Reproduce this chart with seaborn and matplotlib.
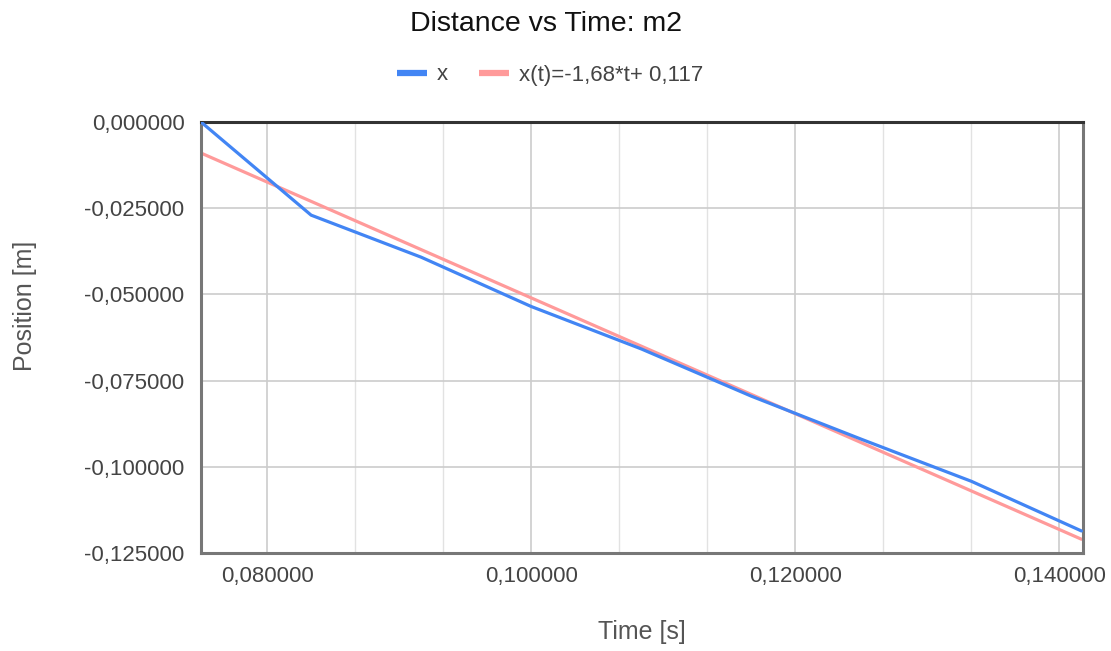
import numpy as np
import pandas as pd
import seaborn as sns
import matplotlib
matplotlib.use("Agg")
import matplotlib.pyplot as plt
from matplotlib.ticker import FuncFormatter, MultipleLocator

# measured data (Time [s], Position [m])
time_s = [0.075, 0.083333, 0.091667, 0.1, 0.108333, 0.116667, 0.125, 0.133333, 0.141667]
pos_m = [0.0, -0.0270, -0.0392, -0.0535, -0.0658, -0.0795, -0.0920, -0.1042, -0.1186]

# trendline x(t) = -1,68*t + 0,117
slope = -1.68
intercept = 0.117
fit_label = "x(t)=-1,68*t+ 0,117"

df = pd.DataFrame({"t": time_s, "x": pos_m})
df["fit"] = slope * df["t"] + intercept

sns.set_style("white")
plt.rcParams["font.family"] = ["Liberation Sans", "DejaVu Sans"]

fig = plt.figure(figsize=(11.11, 6.51), dpi=100)
ax = fig.add_axes([0.181, 0.1505, 0.794, 0.662])

sns.lineplot(data=df, x="t", y="x", ax=ax, color="#4285f4", linewidth=2.3, label="x", zorder=3)
sns.lineplot(data=df, x="t", y="fit", ax=ax, color="#ff9a9a", linewidth=2.3, label=fit_label, zorder=2)

ax.set_xlim(0.075, 0.1418)
ax.set_ylim(-0.125, 0.0)
ax.xaxis.set_major_locator(MultipleLocator(0.02))
ax.xaxis.set_minor_locator(MultipleLocator(0.02 / 3))
ax.yaxis.set_major_locator(MultipleLocator(0.025))

fmt = FuncFormatter(lambda v, p: f"{v:.6f}".replace(".", ",").replace("-0,000000", "0,000000"))
ax.xaxis.set_major_formatter(fmt)
ax.yaxis.set_major_formatter(fmt)

ax.grid(True, which="major", color="#cccccc", linewidth=1.2)
ax.grid(True, which="minor", axis="x", color="#e2e2e2", linewidth=1.0)
ax.tick_params(axis="both", which="both", length=0, labelsize=16, colors="#444444")
ax.tick_params(axis="y", pad=12)
ax.tick_params(axis="x", pad=9)

for side in ["left", "right", "bottom"]:
    ax.spines[side].set_color("#777777")
    ax.spines[side].set_linewidth(2.2)
ax.spines["top"].set_color("#333333")
ax.spines["top"].set_linewidth(2.2)

ax.set_xlabel("Time [s]", fontsize=18, color="#555555", va="center")
ax.set_ylabel("Position [m]", fontsize=18, color="#555555", va="center")
ax.xaxis.set_label_coords(0.5, -0.183)
ax.yaxis.set_label_coords(-0.1995, 0.573)
fig.text(546 / 1111, 1 - 24 / 651, "Distance vs Time: m2", fontsize=20.5, color="#111111",
         ha="center", va="center")

handles, labels = ax.get_legend_handles_labels()
ax.get_legend().remove()
leg = fig.legend(handles, labels, loc="center", bbox_to_anchor=(550 / 1111, 1 - 75 / 651), ncol=2,
                 frameon=False, fontsize=16, handlelength=1.36, columnspacing=1.4, handletextpad=0.45)
for line in leg.get_lines():
    line.set_linewidth(4.5)
    line.set_solid_capstyle("butt")
for t in leg.get_texts():
    t.set_color("#444444")

fig.savefig("out.png", dpi=100)
